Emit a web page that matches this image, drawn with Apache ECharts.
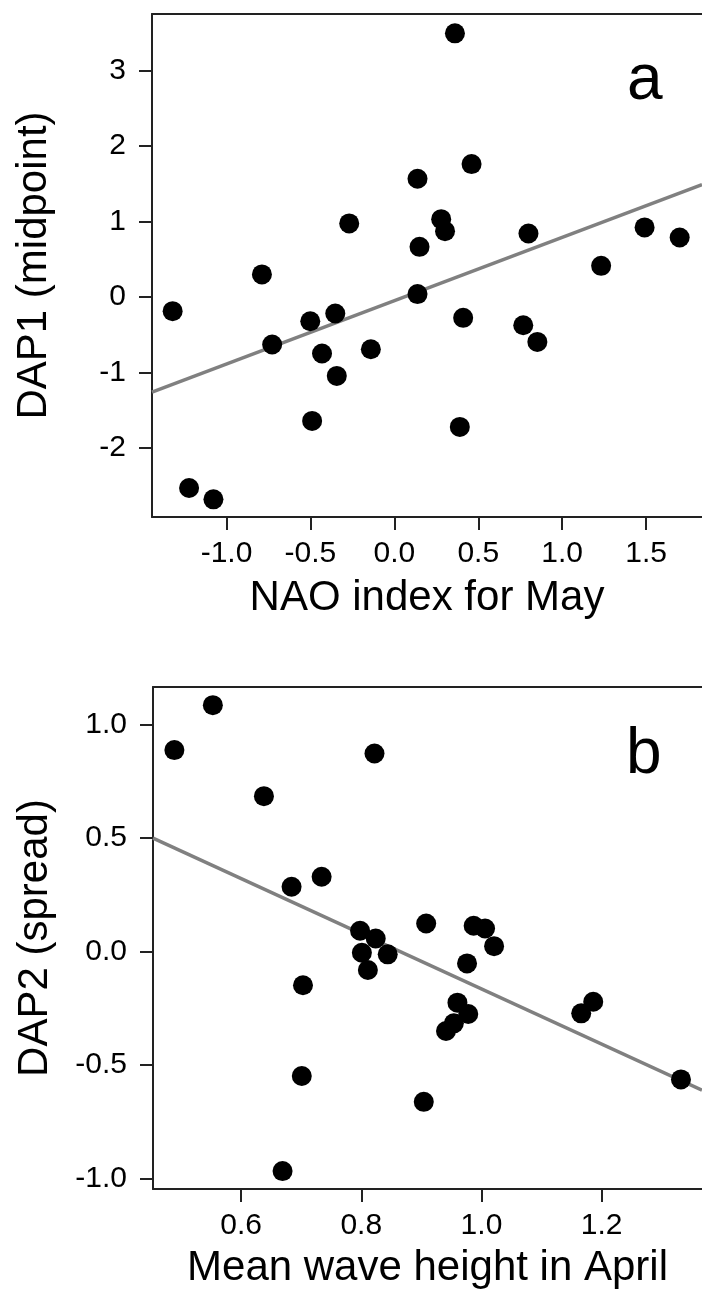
<!DOCTYPE html>
<html>
<head>
<meta charset="utf-8">
<script src="https://cdn.jsdelivr.net/npm/echarts@6/dist/echarts.min.js"></script>
<style>
html,body{margin:0;padding:0;background:#fff;}
#chart{width:702px;height:1297px;}
</style>
</head>
<body>
<div id="chart"></div>
<script>
// Panel a: NAO index for May vs DAP1 (midpoint)
const naoMay = [0.361, 0.460, 0.138, -0.269, 0.279, 0.302, 0.150, 0.799, 1.491, 1.700, 1.232, -0.789, 0.138,
  -1.321, -0.501, -0.352, -0.728, -0.431, -0.343, -0.140, -0.490, 0.410, 0.390, 0.768, 0.852, -1.223, -1.078];
const dap1 = [3.496, 1.763, 1.568, 0.976, 1.033, 0.874, 0.666, 0.843, 0.923, 0.790, 0.414, 0.300, 0.040,
  -0.187, -0.320, -0.218, -0.629, -0.748, -1.045, -0.691, -1.641, -0.275, -1.721, -0.373, -0.594, -2.530, -2.681];
const fitA_x = [-1.444, 1.833];
const fitA_y = [-1.26, 1.49];

// Panel b: Mean wave height in April vs DAP2 (spread)
const waveApr = [0.489, 0.553, 0.638, 0.822, 0.684, 0.734, 0.908, 0.987, 1.006, 0.798,
  0.824, 0.801, 0.811, 0.844, 1.021, 0.976, 0.703, 0.701, 0.669, 0.904,
  0.960, 0.978, 0.954, 0.941, 1.186, 1.166, 1.332];
const dap2 = [0.888, 1.086, 0.685, 0.873, 0.286, 0.330, 0.124, 0.114, 0.102, 0.092,
  0.058, -0.005, -0.081, -0.012, 0.024, -0.052, -0.148, -0.548, -0.967, -0.662,
  -0.225, -0.275, -0.316, -0.350, -0.221, -0.272, -0.563];
const fitB_x = [0.4534, 1.367];
const fitB_y = [0.50, -0.61];

// Tick labels
const xTicksA = [-1.0, -0.5, 0.0, 0.5, 1.0, 1.5];
const yTicksA = [-2, -1, 0, 1, 2, 3];
const xTicksB = [0.6, 0.8, 1.0, 1.2];
const yTicksB = [-1.0, -0.5, 0.0, 0.5, 1.0];

const FONT = 'Liberation Sans, Arial, sans-serif';
const AXC = '#222';

function pairs(xs, ys) { return xs.map((x, i) => [x, ys[i]]); }

function mainX(gridIndex, min, max, ticks, name, gap) {
  return {
    type: 'value', gridIndex, min, max, position: 'bottom',
    name, nameLocation: 'middle', nameGap: gap,
    nameTextStyle: { fontSize: 42, fontFamily: FONT, color: '#000' },
    axisLine: { show: true, onZero: false, lineStyle: { color: AXC, width: 2 } },
    axisTick: { show: true, inside: false, length: 13, lineStyle: { color: AXC, width: 2 }, customValues: ticks },
    axisLabel: { show: true, margin: 22, fontSize: 30, fontFamily: FONT, color: '#000',
      customValues: ticks, formatter: v => v.toFixed(1) },
    splitLine: { show: false }
  };
}
function mainY(gridIndex, min, max, ticks, name, fmt) {
  return {
    type: 'value', gridIndex, min, max, position: 'left',
    name, nameLocation: 'middle', nameGap: 97, nameRotate: 90,
    nameTextStyle: { fontSize: 42, fontFamily: FONT, color: '#000' },
    axisLine: { show: true, onZero: false, lineStyle: { color: AXC, width: 2 } },
    axisTick: { show: true, inside: false, length: 13, lineStyle: { color: AXC, width: 2 }, customValues: ticks },
    axisLabel: { show: true, margin: 26, fontSize: 30, fontFamily: FONT, color: '#000',
      customValues: ticks, formatter: fmt },
    splitLine: { show: false }
  };
}
function topX(gridIndex, min, max) {
  return {
    type: 'value', gridIndex, min, max, position: 'top',
    axisLine: { show: true, onZero: false, lineStyle: { color: AXC, width: 2 } },
    axisTick: { show: false }, axisLabel: { show: false }, splitLine: { show: false }
  };
}

const chart = echarts.init(document.getElementById('chart'), null, { renderer: 'canvas' });
chart.setOption({
  backgroundColor: '#fff',
  animation: false,
  grid: [
    { left: 152, top: 14, width: 556, height: 503, containLabel: false },
    { left: 153, top: 687, width: 555, height: 502, containLabel: false }
  ],
  xAxis: [
    mainX(0, -1.444, 1.833, xTicksA, 'NAO index for May', 60),
    mainX(1, 0.4534, 1.367, xTicksB, 'Mean wave height in April', 58),
    topX(0, -1.444, 1.833),
    topX(1, 0.4534, 1.367)
  ],
  yAxis: [
    mainY(0, -2.915, 3.752, yTicksA, 'DAP1 (midpoint)', v => String(Math.round(v))),
    mainY(1, -1.046, 1.166, yTicksB, 'DAP2 (spread)', v => v.toFixed(1))
  ],
  series: [
    { type: 'line', xAxisIndex: 0, yAxisIndex: 0, data: pairs(fitA_x, fitA_y), symbol: 'none',
      lineStyle: { color: '#808080', width: 3.5 }, z: 1, silent: true },
    { type: 'scatter', xAxisIndex: 0, yAxisIndex: 0, data: pairs(naoMay, dap1), symbol: 'circle',
      symbolSize: 20, itemStyle: { color: '#000', opacity: 1 }, z: 2 },
    { type: 'line', xAxisIndex: 1, yAxisIndex: 1, data: pairs(fitB_x, fitB_y), symbol: 'none',
      lineStyle: { color: '#808080', width: 3.5 }, z: 1, silent: true },
    { type: 'scatter', xAxisIndex: 1, yAxisIndex: 1, data: pairs(waveApr, dap2), symbol: 'circle',
      symbolSize: 20, itemStyle: { color: '#000', opacity: 1 }, z: 2 }
  ],
  graphic: [
    { type: 'text', style: { text: 'a', x: 627, y: 113, verticalAlign: 'bottom', fontSize: 64, fontFamily: FONT, fill: '#000' } },
    { type: 'text', style: { text: 'b', x: 626, y: 787, verticalAlign: 'bottom', fontSize: 64, fontFamily: FONT, fill: '#000' } }
  ]
});
</script>
</body>
</html>
